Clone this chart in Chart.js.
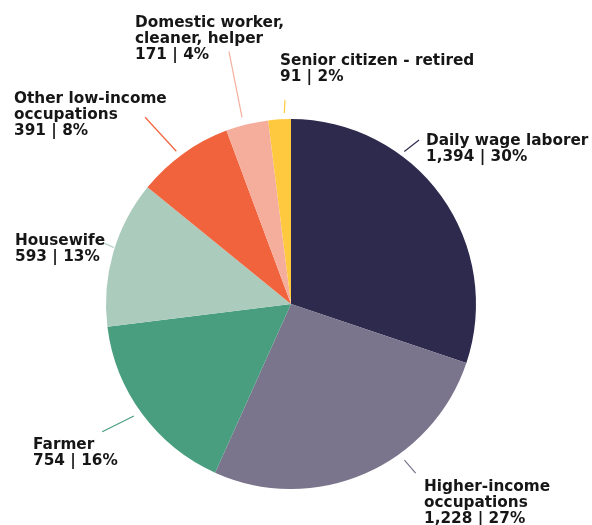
<!DOCTYPE html>
<html>
<head>
<meta charset="utf-8">
<script src="https://cdn.jsdelivr.net/npm/chart.js@4/dist/chart.umd.min.js"></script>
<style>
    html, body { margin: 0; padding: 0; background: #fff; }
    #wrap { position: relative; width: 592px; height: 525px; }
</style>
</head>
<body>
<div id="wrap"><canvas id="occupationPie"></canvas></div>
<script>
// Respondents by occupation
const categories = [
    ['Daily wage laborer'],
    ['Higher-income', 'occupations'],
    ['Farmer'],
    ['Housewife'],
    ['Other low-income', 'occupations'],
    ['Domestic worker,', 'cleaner, helper'],
    ['Senior citizen - retired']
];
const counts = [1394, 1228, 754, 593, 391, 171, 91];
const sliceColors = ['#2e2a4d', '#7a748c', '#4a9e80', '#abcbbd', '#f1633c', '#f5ae9c', '#fec93f'];

// Label placement: leader line as polar points (deg clockwise from top, px from centre)
// and the top-left text anchor (x, first baseline)
const labelLayout = [
    { line: [36.6, 190, 38.0, 208], x: 426, y: 145 },
    { line: [144.0, 193, 143.6, 210], x: 424, y: 491 },
    { line: [234.5, 193, 235.9, 228], x: 33, y: 449 },
    { line: [287.7, 186, 288.1, 198], x: 15, y: 245 },
    { line: [323.1, 191, 322.0, 237], x: 14, y: 103 },
    { line: [345.3, 193, 346.2, 260], x: 135, y: 27 },
    { line: [358.0, 191, 358.3, 204], x: 280, y: 65 }
];

const total = counts.reduce((a, b) => a + b, 0);

const calloutPlugin = {
    id: 'callouts',
    afterDatasetsDraw(chart) {
        const ctx = chart.ctx;
        const arc = chart.getDatasetMeta(0).data[0];
        const cx = arc.x, cy = arc.y;
        const polar = (deg, r) => {
            const a = deg * Math.PI / 180;
            return [cx + r * Math.sin(a), cy - r * Math.cos(a)];
        };
        ctx.save();
        categories.forEach((lines, i) => {
            const lay = labelLayout[i];
            const p1 = polar(lay.line[0], lay.line[1]);
            const p2 = polar(lay.line[2], lay.line[3]);
            ctx.strokeStyle = sliceColors[i];
            ctx.lineWidth = 1.2;
            ctx.beginPath();
            ctx.moveTo(p1[0], p1[1]);
            ctx.lineTo(p2[0], p2[1]);
            ctx.stroke();

            const pct = Math.round(counts[i] / total * 100);
            const text = lines.concat([counts[i].toLocaleString('en-US') + ' | ' + pct + '%']);
            ctx.fillStyle = '#161616';
            ctx.font = 'bold 15.3px "DejaVu Sans", sans-serif';
            ctx.textAlign = 'left';
            ctx.textBaseline = 'alphabetic';
            text.forEach((t, k) => ctx.fillText(t, lay.x, lay.y + k * 16));
        });
        ctx.restore();
    }
};

new Chart(document.getElementById('occupationPie'), {
    type: 'pie',
    data: {
        labels: categories,
        datasets: [{
            data: counts,
            backgroundColor: sliceColors,
            borderWidth: 0
        }]
    },
    options: {
        responsive: true,
        maintainAspectRatio: false,
        animation: false,
        events: [],
        layout: { padding: { top: 119, bottom: 36, left: 106, right: 116 } },
        plugins: {
            legend: { display: false },
            tooltip: { enabled: false }
        }
    },
    plugins: [calloutPlugin]
});
</script>
</body>
</html>
